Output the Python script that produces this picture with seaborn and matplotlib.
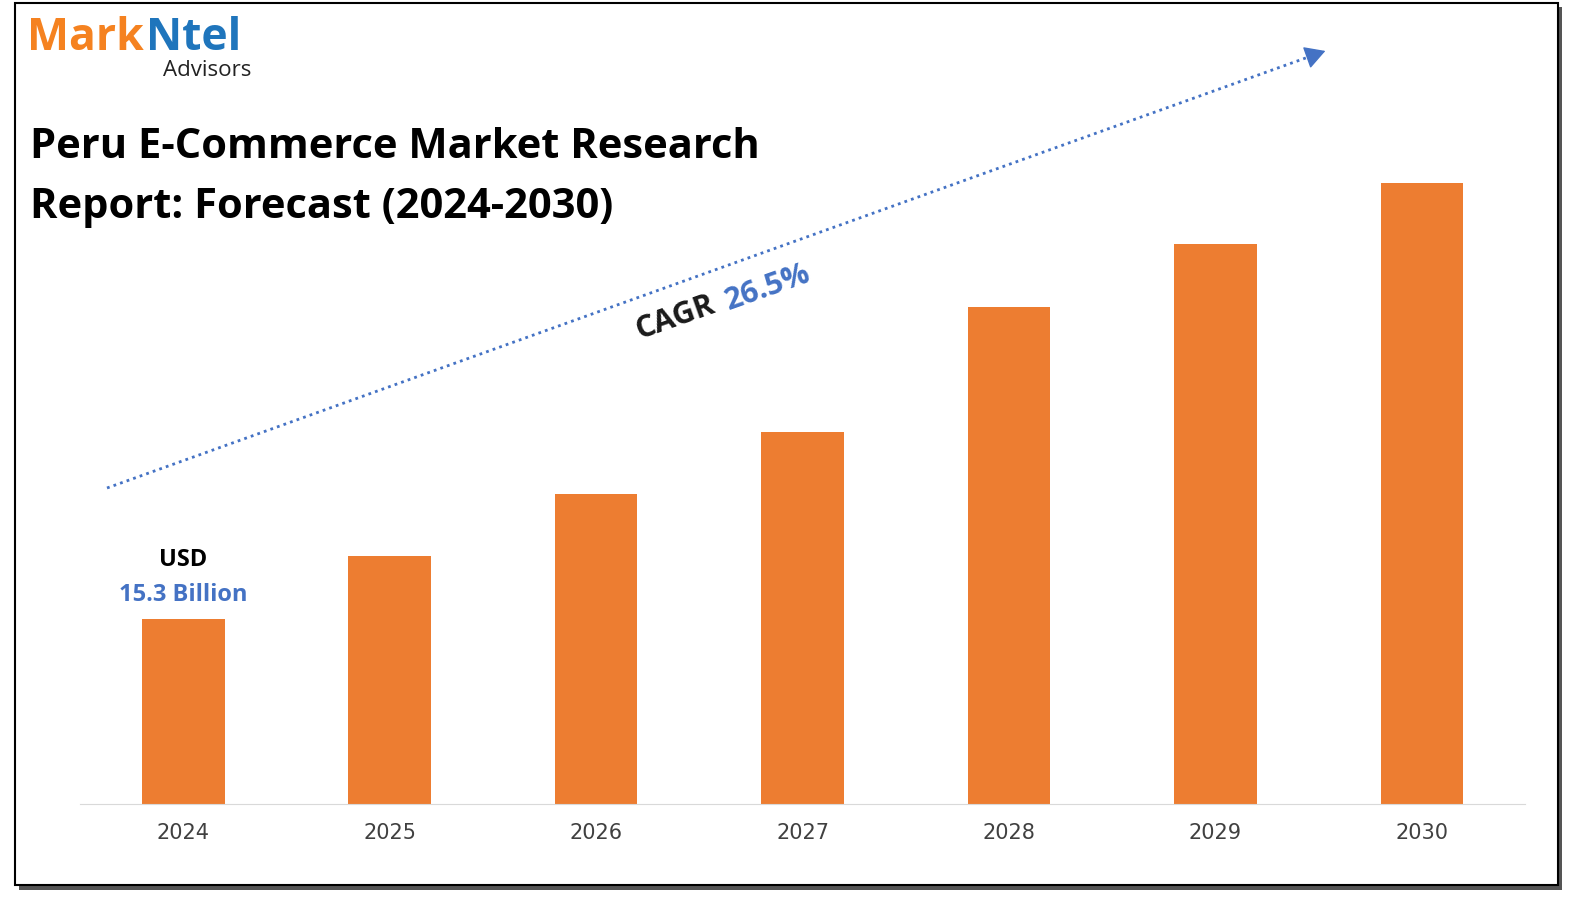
import matplotlib
matplotlib.use("Agg")
import matplotlib.pyplot as plt
import seaborn as sns
import pandas as pd
from matplotlib.patches import Rectangle, FancyArrowPatch
from matplotlib.lines import Line2D

years = ["2024", "2025", "2026", "2027", "2028", "2029", "2030"]
values = [15.3, 20.5, 25.6, 30.8, 41.1, 46.3, 51.4]

W, H = 1581, 907
fig = plt.figure(figsize=(W/100, H/100), dpi=100)
fx = lambda x: x / W
fy = lambda y: 1 - y / H

# frame with shadow
fig.patches.append(Rectangle((fx(19), fy(890)), fx(1543), fy(7)-fy(890), transform=fig.transFigure, facecolor="#555555", edgecolor="none", zorder=-3))
fig.patches.append(Rectangle((fx(15), fy(885)), fx(1543), fy(3)-fy(885), transform=fig.transFigure, facecolor="white", edgecolor="black", linewidth=1.5, zorder=-2))

ax = fig.add_axes([fx(80), fy(804), fx(1525)-fx(80), fy(100)-fy(804)])
ax.set_facecolor("none")
df = pd.DataFrame({"year": years, "value": values})
sns.barplot(data=df, x="year", y="value", color="#ED7D31", saturation=1, width=0.4, ax=ax)
ax.set_xlim(-0.5, 6.5)
ax.set_ylim(0, 704/12.09)
for s in ["top", "right", "left"]:
    ax.spines[s].set_visible(False)
ax.spines["bottom"].set_color("#D9D9D9")
ax.set_yticks([])
ax.set_xlabel(""); ax.set_ylabel("")
ax.tick_params(axis="x", length=0, labelsize=15, labelcolor="#404040", pad=14)

font = "Open Sans"
ax.text(0, values[0] + 2.0, "15.3 Billion", ha="center", va="center", fontsize=17, fontweight="bold", color="#4472C4", family=font)
ax.text(0, values[0] + 4.9, "USD", ha="center", va="center", fontsize=17, fontweight="bold", color="black", family=font)

fig.text(fx(30), fy(147), "Peru E-Commerce Market Research", fontsize=30, fontweight="bold", family=font, va="center")
fig.text(fx(30), fy(207), "Report: Forecast (2024-2030)", fontsize=30, fontweight="bold", family=font, va="center")

# logo
fig.text(fx(27), fy(38), "Mark", fontsize=32, fontweight="bold", color="#F58220", family=font, va="center")
fig.text(fx(146), fy(38), "Ntel", fontsize=32, fontweight="bold", color="#1F75BC", family=font, va="center")
fig.text(fx(163), fy(70), "Advisors", fontsize=16, color="#222222", family=font, va="center")

# arrow
x0, y0, x1, y1 = 107, 488, 1328, 50
fig.add_artist(Line2D([fx(x0), fx(x1 - 14)], [fy(y0), fy(y1 + 5)], transform=fig.transFigure,
                      color="#4472C4", linestyle=(0, (1, 1.5)), linewidth=2))
fig.add_artist(FancyArrowPatch((fx(x1 - 16), fy(y1 + 5.7)), (fx(x1), fy(y1)), transform=fig.transFigure,
    arrowstyle="-|>,head_length=0.8,head_width=0.45", mutation_scale=16, color="#4472C4", linewidth=1))
fig.text(fx(675), fy(318), "CAGR", fontsize=22, fontweight="bold", rotation=19.5, family=font, ha="center", va="center", color="#1a1a1a")
fig.text(fx(768), fy(288), "26.5%", fontsize=22, fontweight="bold", rotation=19.5, family=font, ha="center", va="center", color="#4472C4")

fig.savefig("out.png", dpi=100)
